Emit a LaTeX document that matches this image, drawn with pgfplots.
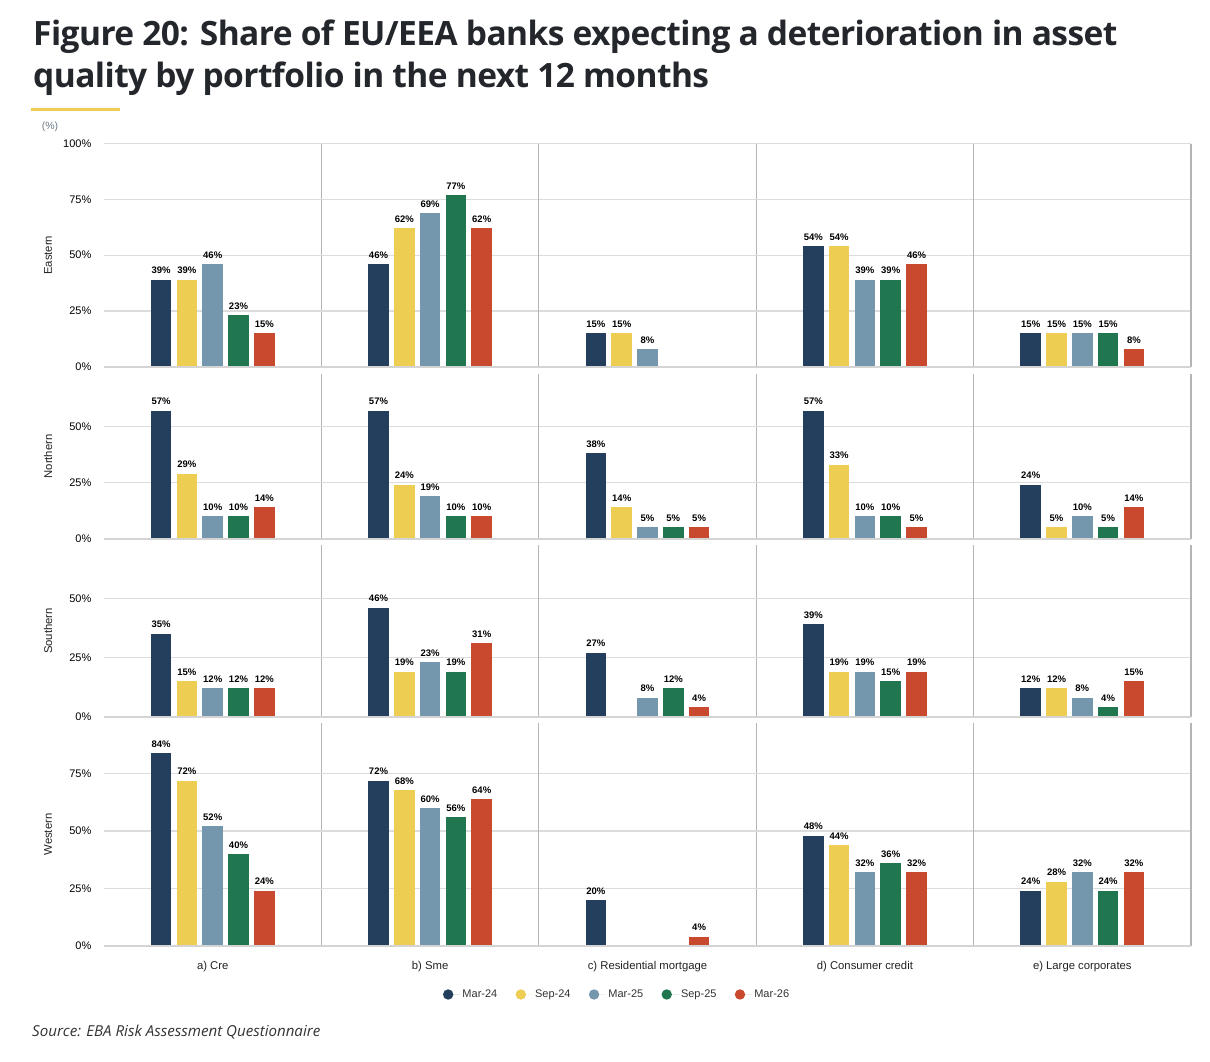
\documentclass[border=0pt]{standalone}
\usepackage{fontspec}
\setmainfont{Liberation Sans}
\newfontfamily\osans{Open Sans}
\newfontfamily\osanst{Open Sans}[LetterSpace=-1.7]
\usepackage{pgfplots}
\pgfplotsset{compat=1.18}

\definecolor{cA}{HTML}{243F5E}
\definecolor{cB}{HTML}{EDCD52}
\definecolor{cC}{HTML}{7597AE}
\definecolor{cD}{HTML}{20774F}
\definecolor{cE}{HTML}{C9492E}
\definecolor{gridc}{HTML}{DCDCDC}
\definecolor{borderc}{HTML}{B4B4B4}
\definecolor{basec}{HTML}{D4D4D4}
\definecolor{titc}{HTML}{23262B}
\definecolor{txtc}{HTML}{222222}
\definecolor{legc}{HTML}{333333}
\definecolor{pctc}{HTML}{6A7784}
\definecolor{ttyellow}{HTML}{EDCD52}

\newcommand\tickfont{\fontsize{11}{13}\selectfont}
\newcommand\valfont{\fontsize{9.5}{11}\selectfont\bfseries}
\newcommand\lblfont{\fontsize{11.3}{13}\selectfont}

\pgfplotsset{
  panel/.style={
    scale only axis, width=217.4pt, ymin=0, xmin=-2.213, xmax=6.213,
    xtick=\empty, axis line style={draw=none}, ymajorgrids,
    grid style={draw=gridc, line width=1.2pt},
    major tick length=0pt, clip=false,
    /pgf/number format/assume math mode=true,
    yticklabel={\pgfmathprintnumber{\tick}\%},
    yticklabel style={font=\tickfont, text=black, inner sep=0pt, anchor=east, xshift=-12.5pt},
    nodes near coords={\pgfmathprintnumber{\pgfplotspointmeta}\%},
    every node near coord/.append style={font=\valfont, text=black, inner sep=0pt, anchor=south, yshift=5.5pt},
  },
  rowstyle/.style={}, colstyle/.style={},
}

\newcommand\onebar[3]{\ifdim#2pt>0pt\relax
  \addplot[ybar, bar shift=0pt, bar width=20.5pt, fill=#3, draw=none,
    legend image code/.code={\path (-5pt,0pt) -- (12.3pt,0pt);\fill[#3] (0pt,0pt) circle (5.2pt);}]
    coordinates {(#1,#2)};\fi}

\def\panelextra{}
\newcommand\panel[9]{%
\begin{axis}[panel, rowstyle, colstyle, at={(#1pt,#2pt)}, anchor=south west, height=#3pt, ymax=#4]
\onebar{0}{#5}{cA}\onebar{1}{#6}{cB}\onebar{2}{#7}{cC}\onebar{3}{#8}{cD}\onebar{4}{#9}{cE}
\draw[draw=borderc, line width=1.2pt] (rel axis cs:1,0) -- (rel axis cs:1,1);
\draw[draw=basec, line width=2pt] (rel axis cs:0,0) -- (rel axis cs:1,0);
\panelextra
\end{axis}}

\newcommand\firstcol{\pgfplotsset{colstyle/.style={}}}
\newcommand\othercol{\pgfplotsset{colstyle/.style={yticklabels={}}}}

\begin{document}
\begin{tikzpicture}
\path[use as bounding box] (0,0) rectangle (1210pt,1062pt);

% Title
\node[anchor=base west, inner sep=0pt, text=titc, font=\osanst\bfseries\fontsize{33.5}{40}\selectfont] at (33pt,1016pt) {Figure 20: Share of EU/EEA banks expecting a deterioration in asset};
\node[anchor=base west, inner sep=0pt, text=titc, font=\osanst\bfseries\fontsize{33.5}{40}\selectfont] at (33pt,974.7pt) {quality by portfolio in the next 12 months};
\fill[ttyellow] (31pt,951.2pt) rectangle (120pt,953.7pt);
\node[inner sep=0pt, text=pctc, font=\fontsize{10.5}{12}\selectfont] at (50pt,935.3pt) {(\%)};

% Row 1: Eastern
\pgfplotsset{rowstyle/.style={ytick={0,25,50,75,100}}}
\firstcol
\panel{104}{695.3}{223}{100}{39}{39}{46}{23}{15}
\othercol
\panel{321.4}{695.3}{223}{100}{46}{62}{69}{77}{62}
\panel{538.8}{695.3}{223}{100}{15}{15}{8}{0}{0}
\panel{756.2}{695.3}{223}{100}{54}{54}{39}{39}{46}
\panel{973.6}{695.3}{223}{100}{15}{15}{15}{15}{8}

% Row 2: Northern
\pgfplotsset{rowstyle/.style={ytick={0,25,50}}}
\firstcol
\panel{104}{523.3}{164.7}{73.3}{57}{29}{10}{10}{14}
\othercol
\panel{321.4}{523.3}{164.7}{73.3}{57}{24}{19}{10}{10}
\panel{538.8}{523.3}{164.7}{73.3}{38}{14}{5}{5}{5}
\panel{756.2}{523.3}{164.7}{73.3}{57}{33}{10}{10}{5}
\panel{973.6}{523.3}{164.7}{73.3}{24}{5}{10}{5}{14}

% Row 3: Southern
\pgfplotsset{rowstyle/.style={ytick={0,25,50}}}
\firstcol
\panel{104}{345.3}{171.7}{72.5}{35}{15}{12}{12}{12}
\othercol
\panel{321.4}{345.3}{171.7}{72.5}{46}{19}{23}{19}{31}
\panel{538.8}{345.3}{171.7}{72.5}{27}{0}{8}{12}{4}
\panel{756.2}{345.3}{171.7}{72.5}{39}{19}{19}{15}{19}
\panel{973.6}{345.3}{171.7}{72.5}{12}{12}{8}{4}{15}

% Row 4: Western
\pgfplotsset{rowstyle/.style={ytick={0,25,50,75}}}
\pgfplotsset{colstyle/.style={
  legend style={at={(2.36,-0.2194)}, anchor=center, draw=none, fill=none,
    legend columns=5, font=\fontsize{11}{13}\selectfont, text=legc,
    /tikz/every even column/.append style={column sep=16.3pt}},
  legend cell align=left}}
\def\panelextra{\legend{Mar-24,Sep-24,Mar-25,Sep-25,Mar-26}}
\panel{104}{116.3}{222.4}{97}{84}{72}{52}{40}{24}
\def\panelextra{}
\othercol
\panel{321.4}{116.3}{222.4}{97}{72}{68}{60}{56}{64}
\panel{538.8}{116.3}{222.4}{97}{20}{0}{0}{0}{4}
\panel{756.2}{116.3}{222.4}{97}{48}{44}{32}{36}{32}
\panel{973.6}{116.3}{222.4}{97}{24}{28}{32}{24}{32}

% Row labels
\begin{scope}[every node/.style={rotate=90, inner sep=0pt, text=txtc, font=\lblfont}]
\node at (48pt,806.8pt) {Eastern};
\node at (48pt,605.6pt) {Northern};
\node at (48pt,431.1pt) {Southern};
\node at (48pt,227.5pt) {Western};
\end{scope}

% Column labels
\begin{scope}[every node/.style={anchor=base, inner sep=0pt, text=txtc, font=\lblfont}]
\node at (212.7pt,92.5pt) {a) Cre};
\node at (430.1pt,92.5pt) {b) Sme};
\node at (647.5pt,92.5pt) {c) Residential mortgage};
\node at (864.9pt,92.5pt) {d) Consumer credit};
\node at (1082.3pt,92.5pt) {e) Large corporates};
\end{scope}

% Source
\node[anchor=base west, inner sep=0pt, text=legc, font=\osans\itshape\fontsize{15.1}{17}\selectfont] at (32pt,25.3pt) {Source: EBA Risk Assessment Questionnaire};
\end{tikzpicture}
\end{document}
